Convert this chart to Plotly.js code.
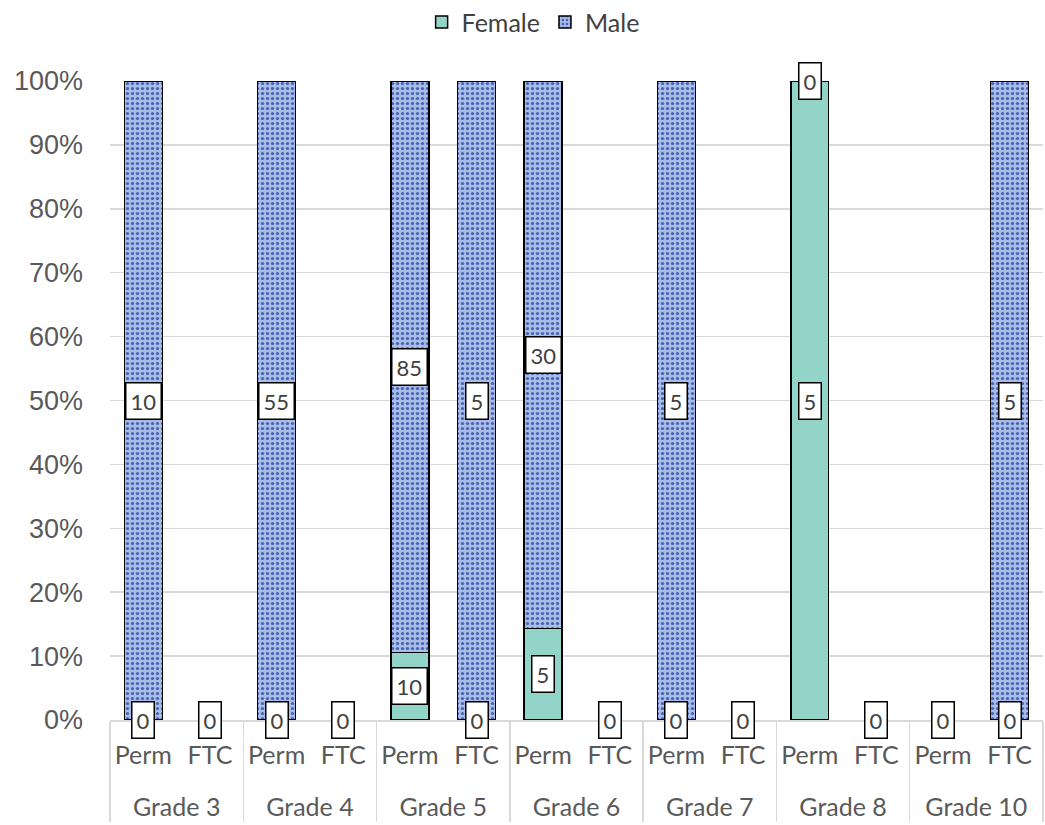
<!DOCTYPE html>
<html>
<head>
<meta charset="utf-8">
<script src="https://cdn.plot.ly/plotly-3.0.1.min.js"></script>
<style>html,body{margin:0;padding:0;background:#fff;}#chart{width:1045px;height:825px;}</style>
</head>
<body>
<div id="chart"></div>
<script>
const grades = ['Grade 3','Grade 3','Grade 4','Grade 4','Grade 5','Grade 5','Grade 6','Grade 6','Grade 7','Grade 7','Grade 8','Grade 8','Grade 10','Grade 10'];
const contracts = ['Perm','FTC','Perm','FTC','Perm','FTC','Perm','FTC','Perm','FTC','Perm','FTC','Perm','FTC'];
const female = [0,0, 0,0, 10,0, 5,0, 0,0, 5,0, 0,0];
const male   = [10,0, 55,0, 85,5, 30,0, 5,0, 0,0, 0,5];
const yTicks = [0,10,20,30,40,50,60,70,80,90,100];

const labelFont = 'Lato, "Open Sans", sans-serif';
// extra blank line pushes the outer (grade) labels further down, as in the reference
const outer = grades.map(g => '<br>' + g);
const traces = [
  {type:'bar', name:'Female', x:[outer, contracts], y:female,
   marker:{color:'#93d4c9', line:{color:'#000', width:1.5}}},
  {type:'bar', name:'Male', x:[outer, contracts], y:male,
   marker:{color:'#8fa6dc', line:{color:'#000', width:1.5},
     pattern:{shape:'.', fgcolor:'#4463b0', bgcolor:'#a9bbe7', size:5, solidity:0.32, fillmode:'replace'}}}
];

const annotations = [];
function box(i, y, v){
  annotations.push({x:i, y:y, xref:'x', yref:'y', text:String(v), showarrow:false,
    font:{family:labelFont, size:22, color:'#404040'}, bgcolor:'#fff', bordercolor:'#000',
    borderwidth:1.5, borderpad:4, xanchor:'center', yanchor:'middle'});
}
for (let i=0;i<female.length;i++){
  const tot = female[i]+male[i];
  const fp = tot>0 ? female[i]/tot*100 : 0;
  const mp = tot>0 ? male[i]/tot*100 : 0;
  box(i, fp/2, female[i]);
  box(i, fp + mp/2, male[i]);
}

const layout = {
  width:1045, height:825,
  margin:{l:110, r:2, t:81, b:105},
  paper_bgcolor:'#fff', plot_bgcolor:'#fff',
  barmode:'stack', barnorm:'percent', bargap:0.43,
  showlegend:true,
  legend:{orientation:'h', traceorder:'normal', x:0.334, xanchor:'left',
    yref:'container', y:0.973, yanchor:'middle',
    font:{family:labelFont, size:25, color:'#404040'}, itemwidth:30, tracegroupgap:0},
  xaxis:{type:'multicategory', showgrid:false, showline:true, linecolor:'#d9d9d9', linewidth:1.5,
    showdividers:true, dividercolor:'#d9d9d9', dividerwidth:1.5,
    tickfont:{family:labelFont, size:25, color:'#595959'}, ticks:'', ticklabelstandoff:12},
  yaxis:{range:[0,100], tickvals:yTicks, ticktext:yTicks.map(v=>v+'%'),
    showgrid:true, gridcolor:'#d9d9d9', gridwidth:1.5, zeroline:false, showline:false,
    tickfont:{family:'"Liberation Sans", Arial, sans-serif', size:27, color:'#595959'},
    ticklabelstandoff:26, fixedrange:true},
  annotations:annotations
};
Plotly.newPlot('chart', traces, layout, {displayModeBar:false, staticPlot:true});
</script>
</body>
</html>
